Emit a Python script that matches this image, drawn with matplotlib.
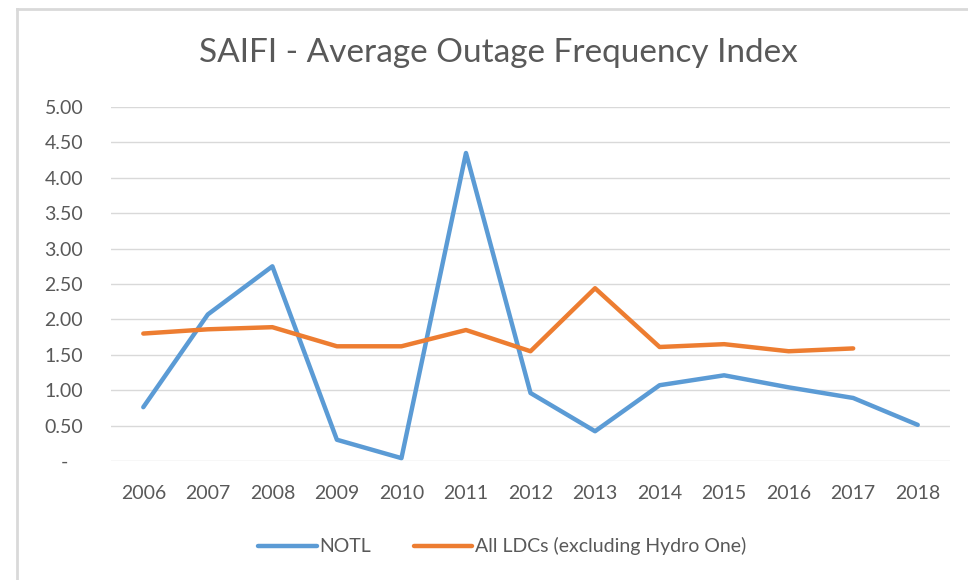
import matplotlib
matplotlib.use('Agg')
import matplotlib.pyplot as plt
from matplotlib.lines import Line2D

plt.rcParams['font.family'] = ['Lato', 'DejaVu Sans']

years = ['2006', '2007', '2008', '2009', '2010', '2011', '2012',
         '2013', '2014', '2015', '2016', '2017', '2018']
notl = [0.76, 2.07, 2.75, 0.30, 0.04, 4.35, 0.96, 0.42, 1.07, 1.21, 1.04, 0.89, 0.51]
all_ldcs = [1.80, 1.86, 1.89, 1.62, 1.62, 1.85, 1.55, 2.44, 1.61, 1.65, 1.55, 1.59]
y_ticks = [0, 0.5, 1.0, 1.5, 2.0, 2.5, 3.0, 3.5, 4.0, 4.5, 5.0]

blue = '#5B9BD5'
orange = '#ED7D31'
text_col = '#595959'

fig = plt.figure(figsize=(9.68, 5.80), dpi=100)
ax = fig.add_axes([0.1147, 0.2052, 0.8667, 0.6103])

x = list(range(len(years)))
ax.plot(x, notl, color=blue, lw=3.2, solid_joinstyle='round', solid_capstyle='round', label='NOTL')
ax.plot(x[:len(all_ldcs)], all_ldcs, color=orange, lw=3.2, solid_joinstyle='round',
        solid_capstyle='round', label='All LDCs (excluding Hydro One)')

ax.set_xlim(-0.5, len(years) - 0.5)
ax.set_ylim(0, 5)
ax.set_xticks(x)
ax.set_xticklabels(years)
ax.set_yticks(y_ticks)
ax.set_yticklabels(['-   '] + ['%.2f' % v for v in y_ticks[1:]])
ax.grid(axis='y', color='#D9D9D9', lw=1.0)
ax.set_axisbelow(True)
for s in ax.spines.values():
    s.set_visible(False)
ax.tick_params(length=0, labelsize=14, colors=text_col)
ax.tick_params(axis='y', pad=20)
ax.tick_params(axis='x', pad=17)

fig.text(0.515, 0.908, 'SAIFI - Average Outage Frequency Index', ha='center', va='center',
         fontsize=24, color=text_col)

fig.legend(loc='center', bbox_to_anchor=(0.519, 0.058), ncol=2, frameon=False,
           fontsize=14, handlelength=3.0, handletextpad=0.15, columnspacing=2.2,
           labelcolor=text_col)

# chart outer border
fig.add_artist(Line2D([17 / 968, 17 / 968], [0, 1 - 9 / 580], transform=fig.transFigure,
                      color='#D9D9D9', lw=2))
fig.add_artist(Line2D([17 / 968, 1], [1 - 9 / 580, 1 - 9 / 580], transform=fig.transFigure,
                      color='#D9D9D9', lw=2))

fig.savefig('out.png', dpi=100, facecolor='white')
